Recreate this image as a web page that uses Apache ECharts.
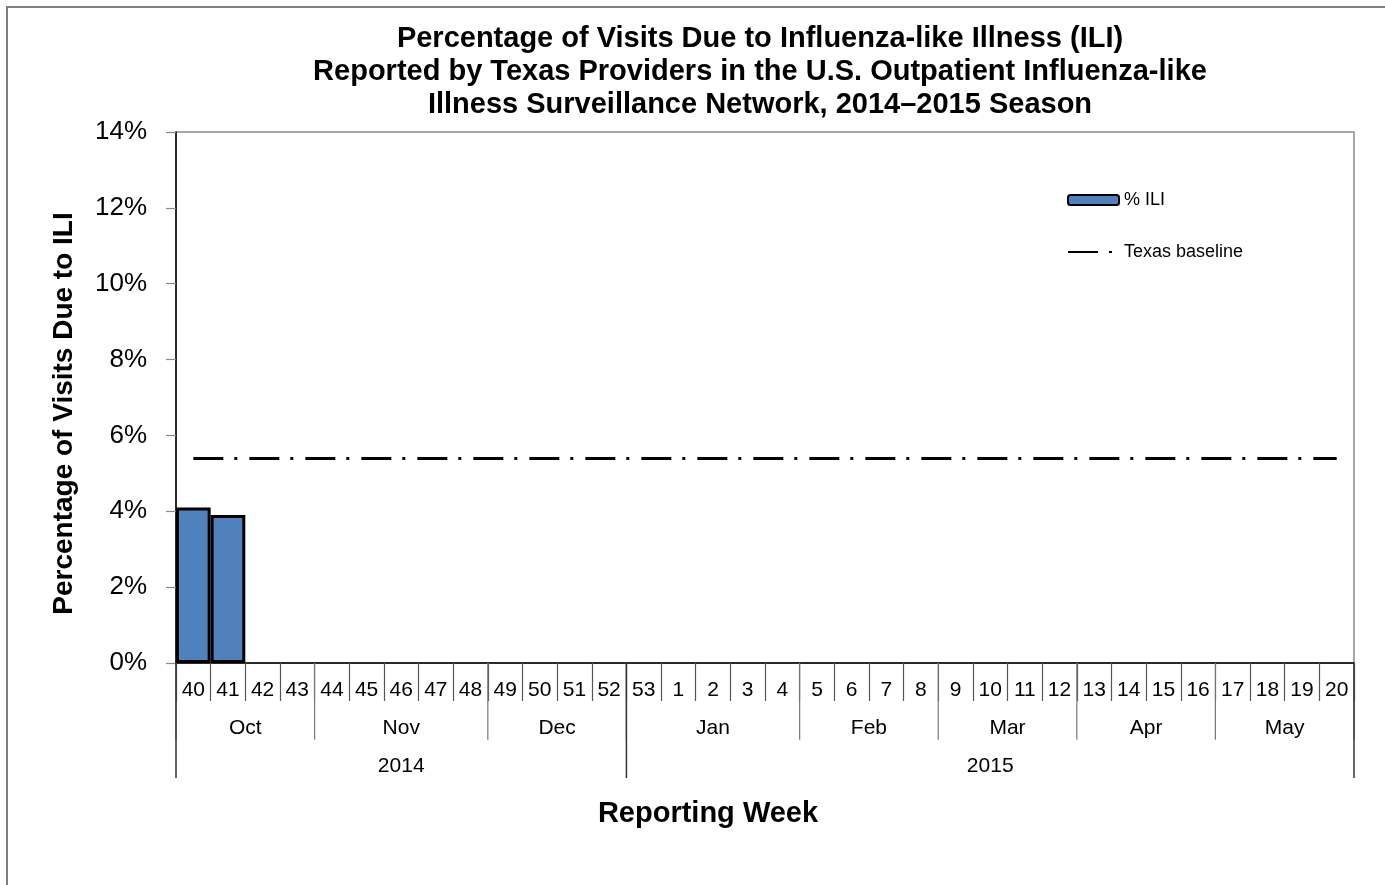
<!DOCTYPE html>
<html>
<head>
<meta charset="utf-8">
<script src="https://cdn.jsdelivr.net/npm/echarts@6/dist/echarts.min.js"></script>
<style>
html, body { margin: 0; padding: 0; background: #fff; overflow: hidden; }
#frame { position: absolute; left: 6px; top: 6px; width: 1400px; height: 900px; border: 2px solid #7f7f7f; box-sizing: border-box; }
#chart { position: absolute; left: 0; top: 0; width: 1385px; height: 885px; }
</style>
</head>
<body>
<div id="frame"></div>
<div id="chart"></div>
<script>
// ---- data ----
const weeks = ['40','41','42','43','44','45','46','47','48','49','50','51','52','53',
  '1','2','3','4','5','6','7','8','9','10','11','12','13','14','15','16','17','18','19','20'];
const iliValues = [4.1, 3.9];
const texasBaseline = 5.4;
const months = ['Oct','Nov','Dec','Jan','Feb','Mar','Apr','May'];
const monthWeekCounts = [4, 5, 4, 5, 4, 4, 4, 4];
const years = ['2014','2015'];
const yearWeekCounts = [13, 21];

function spans(counts, row) {
  const out = []; let s = 0;
  counts.forEach(c => { out.push([s, s + c, row]); s += c; });
  return out;
}
const monthSpans = spans(monthWeekCounts, 1);
const yearSpans = spans(yearWeekCounts, 2);

const FONT = '"Liberation Sans", Arial, sans-serif';

function makeRender(labels, lineBottomRow, isYear) {
  return function (params, api) {
    const start = api.value(0), end = api.value(1), row = api.value(2);
    const top = api.coord([start, 0]);
    const bot = api.coord([start, lineBottomRow]);
    const mid = api.coord([(start + end) / 2, row + 0.7]);
    const stroke = isYear ? '#333' : '#777';
    const lw = isYear ? 1.5 : 1.2;
    const children = [
      { type: 'line', shape: { x1: top[0], y1: top[1], x2: bot[0], y2: bot[1] },
        style: { stroke, lineWidth: lw } },
      { type: 'text', style: { text: labels[params.dataIndex], x: mid[0], y: mid[1],
        align: 'center', verticalAlign: 'middle', fontSize: 21, fontFamily: FONT, fill: '#000' } }
    ];
    if (params.dataIndex === labels.length - 1) {
      const t2 = api.coord([end, 0]);
      const b2 = api.coord([end, lineBottomRow]);
      children.push({ type: 'line', shape: { x1: t2[0], y1: t2[1], x2: b2[0], y2: b2[1] },
        style: { stroke, lineWidth: lw } });
    }
    return { type: 'group', children };
  };
}

const chart = echarts.init(document.getElementById('chart'), null, { renderer: 'canvas' });
const dashPattern = [30, 11, 3, 12];

chart.setOption({
  animation: false,
  backgroundColor: 'transparent',
  title: [
    { text: 'Percentage of Visits Due to Influenza-like Illness (ILI)\nReported by Texas Providers in the U.S. Outpatient Influenza-like\nIllness Surveillance Network, 2014\u20132015 Season',
      left: 760, top: 22, textAlign: 'center', padding: 0,
      textStyle: { fontFamily: FONT, fontWeight: 'bold', fontSize: 29, lineHeight: 33, color: '#000', align: 'center' } },
    { text: 'Reporting Week', left: 708, top: 799, textAlign: 'center', padding: 0,
      textStyle: { fontFamily: FONT, fontWeight: 'bold', fontSize: 29, lineHeight: 30, color: '#000' } }
  ],
  legend: {
    orient: 'vertical', left: 1062, top: 186, itemWidth: 51, itemHeight: 10, itemGap: 34,
    data: [
      { name: '% ILI' },
      { name: 'Texas baseline', itemStyle: { color: 'rgba(0,0,0,0)', borderWidth: 0, opacity: 0 } }
    ],
    textStyle: { fontFamily: FONT, fontSize: 18, color: '#000' }
  },
  grid: [
    { left: 176, right: 31, top: 132, bottom: 222, show: true, borderColor: '#8a8a8a', borderWidth: 1.5, backgroundColor: 'transparent' },
    { left: 176, right: 31, top: 663, height: 115 }
  ],
  xAxis: [
    { type: 'category', data: weeks, gridIndex: 0, boundaryGap: true,
      axisLine: { lineStyle: { color: '#000', width: 1.5 } },
      axisTick: { show: true, interval: 0, length: 38, lineStyle: { color: '#555', width: 1.2 } },
      axisLabel: { interval: 0, margin: 17, fontSize: 21, fontFamily: FONT, color: '#000' },
      splitLine: { show: false } },
    { type: 'value', gridIndex: 1, min: 0, max: weeks.length, show: false }
  ],
  yAxis: [
    { type: 'value', gridIndex: 0, min: 0, max: 14, interval: 2,
      name: 'Percentage of Visits Due to ILI', nameLocation: 'middle', nameRotate: 90, nameGap: 98,
      nameTextStyle: { fontFamily: FONT, fontWeight: 'bold', fontSize: 28, color: '#000', padding: [0, 32, 0, 0] },
      axisLine: { show: true, lineStyle: { color: '#000', width: 1.5 } },
      axisTick: { show: true, length: 10, lineStyle: { color: '#888', width: 1.2 } },
      axisLabel: { formatter: '{value}%', margin: 29, fontSize: 26, fontFamily: FONT, color: '#000' },
      splitLine: { show: false } },
    { type: 'value', gridIndex: 1, min: 0, max: 3, inverse: true, show: false }
  ],
  series: [
    { name: '% ILI', type: 'bar', xAxisIndex: 0, yAxisIndex: 0, data: iliValues,
      barCategoryGap: '0%',
      itemStyle: { color: '#4F81BD', borderColor: '#000', borderWidth: 3 } },
    { name: 'Texas baseline', type: 'line', xAxisIndex: 0, yAxisIndex: 0, data: [],
      symbol: 'none', color: '#000',
      lineStyle: { color: '#000', width: 3, type: dashPattern },
      markLine: { silent: true, symbol: 'none', label: { show: false },
        lineStyle: { color: '#000', width: 3, type: dashPattern },
        data: [[{ xAxis: weeks[0], yAxis: texasBaseline }, { xAxis: weeks[weeks.length - 1], yAxis: texasBaseline }]] } },
    { name: 'months', type: 'custom', xAxisIndex: 1, yAxisIndex: 1, data: monthSpans,
      renderItem: makeRender(months, 2, false), clip: false, silent: true },
    { name: 'years', type: 'custom', xAxisIndex: 1, yAxisIndex: 1, data: yearSpans,
      renderItem: makeRender(years, 3, true), clip: false, silent: true }
  ]
});
</script>
</body>
</html>
